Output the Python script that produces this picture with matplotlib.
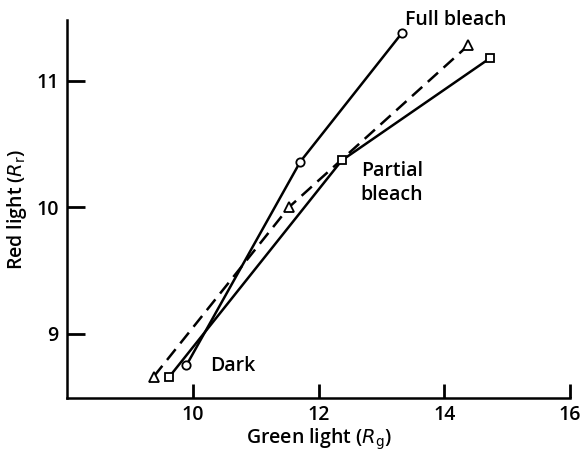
import matplotlib.pyplot as plt

plt.rcParams['font.family'] = ['Open Sans', 'DejaVu Sans']

# Dados
full_x = [9.90, 11.71, 13.33]
full_y = [8.75, 10.36, 11.38]

tri_x = [9.38, 11.53, 14.38]
tri_y = [8.66, 10.00, 11.28]

sq_x = [9.63, 12.37, 14.73]
sq_y = [8.66, 10.37, 11.18]

xticks = [10, 12, 14, 16]
yticks = [9, 10, 11]

fs = 14
fig = plt.figure(figsize=(5.85, 4.57), dpi=100)
ax = fig.add_axes([0.1145, 0.129, 0.86, 0.827])

ax.plot(full_x, full_y, color='black', lw=1.8, marker='o', ms=6,
        mfc='white', mec='black', mew=1.3, zorder=3)
ax.plot(tri_x, tri_y, color='black', lw=1.8, ls=(0, (5.5, 3)), marker='^', ms=6.5,
        mfc='white', mec='black', mew=1.3, zorder=3)
ax.plot(sq_x, sq_y, color='black', lw=1.8, marker='s', ms=6,
        mfc='white', mec='black', mew=1.3, zorder=3)

ax.text(13.38, 11.48, 'Full bleach', fontsize=fs, fontweight='semibold', va='center')
ax.text(12.67, 10.19, 'Partial\nbleach', fontsize=fs, fontweight='semibold',
        va='center', linespacing=1.25)
ax.text(10.27, 8.74, 'Dark', fontsize=fs, fontweight='semibold', va='center')

ax.set_xlim(8, 16)
ax.set_ylim(8.49, 11.48)
ax.set_xticks(xticks)
ax.set_yticks(yticks)
ax.tick_params(direction='in', width=2, labelsize=fs)
ax.tick_params(axis='x', length=10, pad=5)
ax.tick_params(axis='y', length=13, pad=6)
for lab in ax.get_xticklabels() + ax.get_yticklabels():
    lab.set_fontweight('semibold')

for s in ['top', 'right']:
    ax.spines[s].set_visible(False)
for s in ['left', 'bottom']:
    ax.spines[s].set_linewidth(1.8)

ax.set_xlabel('Green light ($R_{\\mathrm{g}}$)', fontsize=fs, fontweight='semibold', labelpad=1)
ax.set_ylabel('Red light ($R_{\\mathrm{r}}$)', fontsize=fs, fontweight='semibold', labelpad=5)

fig.savefig('out.png', dpi=100)
